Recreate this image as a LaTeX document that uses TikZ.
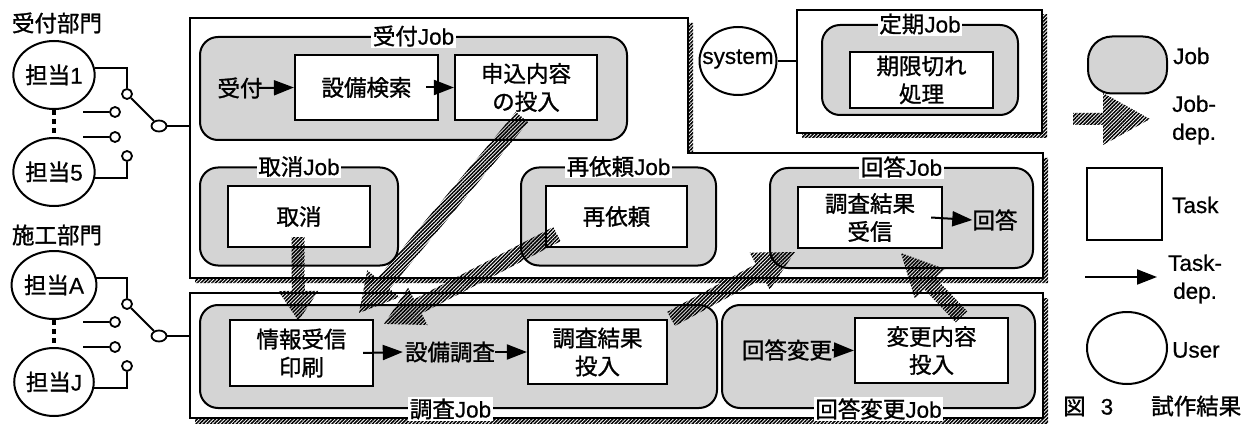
\documentclass[tikz,border=0pt]{standalone}
\usepackage{fontspec}
\setmainfont{Liberation Sans}[FakeBold=0.6]
\newfontfamily\cjk{Noto Sans CJK JP}[FakeBold=1.2]
\usetikzlibrary{arrows.meta,calc,patterns.meta,shapes.geometric}
\newcommand\jp[1]{{\cjk #1}}
\newcommand\jobdep[5]{%
  \coordinate (jdn) at ($(#2)!#5!(#1)$);
  \fill[hatch] ($(#1)!#3!90:(#2)$) -- ($(jdn)!#3!-90:(#1)$) -- ($(jdn)!#4!-90:(#1)$) -- (#2)
     -- ($(jdn)!#4!90:(#1)$) -- ($(jdn)!#3!90:(#1)$) -- ($(#1)!#3!-90:(#2)$) -- cycle;}
\begin{document}
\begin{tikzpicture}[x=1pt,y=-1pt,
  every node/.style={font=\fontsize{22.5}{28}\selectfont},
  hatch/.style={pattern={Lines[angle=45,distance=2.6pt,line width=1.5pt]}, pattern color=black},
  cont/.style={draw, line width=2.2pt, fill=white},
  job/.style={draw, line width=2pt, rounded corners=18pt, fill=black!17, inner sep=0pt},
  task/.style={draw, line width=2.2pt, fill=white, inner sep=0pt, align=center},
  lbl/.style={fill=white, inner sep=1.5pt},
  txt/.style={inner sep=0pt},
  user/.style={draw, ellipse, line width=2pt, inner sep=0pt, minimum width=78pt, minimum height=68pt},
  sw/.style={draw, circle, line width=1.8pt, minimum size=10pt, inner sep=0pt},
  pv/.style={draw, ellipse, line width=1.8pt, minimum width=15pt, minimum height=11pt, inner sep=0pt},
  wire/.style={line width=2pt},
  dotl/.style={line width=4pt, dash pattern=on 5pt off 4pt},
  tdep/.style={-{Triangle[length=20pt,width=15pt]}, line width=2pt},
]
\useasboundingbox (0,0) rectangle (1245,425);

% ---------- containers ----------
\fill[hatch] (195,23) -- (693,23) -- (693,158) -- (1048,158) -- (1048,283) -- (195,283) -- cycle;
\filldraw[cont] (190,18) -- (688,18) -- (688,153) -- (1043,153) -- (1043,278) -- (190,278) -- cycle;
\fill[hatch] (195,298) rectangle (1048,423);
\filldraw[cont] (190,293) rectangle (1043,418);
\fill[hatch] (802,15) rectangle (1047,138);
\node[cont, minimum width=245pt, minimum height=123pt] (tkbox) at (919.5,71.5) {};

% ---------- jobs ----------
\node[job, minimum width=427pt, minimum height=103pt] (jU) at (413.5,88.5) {};
\node[lbl] (jUl) at (jU.north) {\jp{受付}Job};
\node[job, minimum width=198pt, minimum height=98pt] (jT) at (299,216.5) {};
\node[lbl] (jTl) at (jT.north) {\jp{取消}Job};
\node[job, minimum width=195pt, minimum height=98pt] (jS) at (618.5,216.5) {};
\node[lbl] (jSl) at (jS.north) {\jp{再依頼}Job};
\node[job, minimum width=263pt, minimum height=100pt] (jK) at (901.5,218) {};
\node[lbl] (jKl) at (jK.north) {\jp{回答}Job};
\node[job, minimum width=196pt, minimum height=90pt] (jP) at (920,70) {};
\node[lbl] (jPl) at (jP.north) {\jp{定期}Job};
\node[job, minimum width=517pt, minimum height=103pt] (jC) at (458.5,356.5) {};
\node[lbl] (jCl) at ($(jC.south)+(-8,0)$) {\jp{調査}Job};
\node[job, minimum width=313pt, minimum height=103pt] (jH) at (878.5,356.5) {};
\node[lbl] (jHl) at (jH.south) {\jp{回答変更}Job};

% ---------- tasks ----------
\node[task, minimum width=143pt, minimum height=65pt] (tSK) at (366.5,87.5) {\jp{設備検索}};
\node[task, minimum width=142pt, minimum height=65pt] (tMO) at (526,87.5) {\jp{申込内容}\\\jp{の投入}};
\node[task, minimum width=142pt, minimum height=61pt] (tTK) at (299,216.5) {\jp{取消}};
\node[task, minimum width=141pt, minimum height=61pt] (tSI) at (616.5,216.5) {\jp{再依頼}};
\node[task, minimum width=144pt, minimum height=61pt] (tKR) at (870,217.5) {\jp{調査結果}\\\jp{受信}};
\node[task, minimum width=143pt, minimum height=56pt] (tKG) at (921.5,80) {\jp{期限切れ}\\\jp{処理}};
\node[task, minimum width=143pt, minimum height=66pt] (tJJ) at (301.5,353) {\jp{情報受信}\\\jp{印刷}};
\node[task, minimum width=139pt, minimum height=64pt] (tKT) at (597.5,352) {\jp{調査結果}\\\jp{投入}};
\node[task, minimum width=153pt, minimum height=65pt] (tHN) at (931.5,350.5) {\jp{変更内容}\\\jp{投入}};

% ---------- plain task texts ----------
\node[txt] (xUK) at (240,88) {\jp{受付}};
\node[txt] (xKT) at (995,220) {\jp{回答}};
\node[txt] (xSC) at (450,352) {\jp{設備調査}};
\node[txt] (xKH) at (787,350) {\jp{回答変更}};

% ---------- task dependencies ----------
\draw[tdep] ([xshift=-4pt]xUK.east) -- (tSK.west);
\draw[tdep] ([xshift=-13pt]tSK.east) -- (tMO.west);
\draw[tdep] ([xshift=-12pt]tKR.east) -- (xKT.west);
\draw[tdep] ([xshift=-11pt]tJJ.east) -- ([xshift=-2pt]xSC.west);
\draw[tdep] (xSC.east) -- (tKT.west);
\draw[tdep] (xKH.east) -- (tHN.west);

% ---------- system ----------
\node[user, minimum width=77pt, minimum height=68pt] (sys) at (738,61) {};
\node[txt] (syst) at (738,59) {system};
\draw[wire] (sys.east) -- (sys.east -| tkbox.west);

% ---------- users and switches ----------
\node[txt] (d1) at (57,23) {\jp{受付部門}};
\node[txt] (d2) at (57,235) {\jp{施工部門}};
\node[user] (u1) at (54,75) {\jp{担当}1};
\node[user] (u5) at (54,172) {\jp{担当}5};
\node[user] (uA) at (54,285) {\jp{担当}A};
\node[user] (uJ) at (54,382) {\jp{担当}J};
\draw[dotl] (u1.south) -- (u5.north);
\draw[dotl] (uA.south) -- (uJ.north);

\foreach \p/\ua/\ub/\n in {126/u1/u5/a, 336/uA/uJ/b}{
  \node[sw] (c\n) at (127,\p-32) {};
  \node[pv] (p\n) at (159,\p) {};
  \node[sw] (k\n2) at (115,\p-14) {};
  \node[sw] (k\n3) at (115,\p+11) {};
  \node[sw] (k\n4) at (127,\p+30) {};
  \coordinate (e\n) at (190,\p);
  \coordinate (t\n2) at (83,\p-14);
  \coordinate (t\n3) at (83,\p+11);
  \draw[wire] (\ua.10) -| (c\n.north);
  \draw[wire] (c\n) -- (p\n);
  \draw[wire] (p\n) -- (e\n);
  \draw[wire] (t\n2) -- (k\n2);
  \draw[wire] (t\n3) -- (k\n3);
  \draw[wire] (k\n4.south) |- (\ub.-8);
}

% ---------- job dependencies ----------
\coordinate (a1) at ($(tMO.south)+(-4,-4)$);
\coordinate (b1) at ($(tJJ.north east)+(-15,-6)$);
\coordinate (a2) at ($(tSI.south west)+(12,-14)$);
\coordinate (b2) at ($(tJJ.north east)+(10,5)$);
\coordinate (a3) at ($(tTK.south)+(-1,-11)$);
\coordinate (b3) at ($(tJJ.north)+(-3,2)$);
\coordinate (a4) at ($(tKT.north east)+(3,0)$);
\coordinate (b4) at ($(tKR.south west)+(-2,3)$);
\coordinate (a5) at ($(tHN.north)+(30,0)$);
\coordinate (b5) at ($(tKR.south)+(31,4)$);
\jobdep{a1}{b1}{8pt}{21pt}{38pt}
\jobdep{a2}{b2}{8pt}{21pt}{38pt}
\jobdep{a3}{b3}{6.5pt}{20pt}{30pt}
\jobdep{a4}{b4}{8pt}{21pt}{40pt}
\jobdep{a5}{b5}{8pt}{21pt}{42pt}

% ---------- legend ----------
\node[job, rounded corners=24pt, minimum width=79pt, minimum height=57pt] (lJob) at (1127.5,65) {};
\node[txt, anchor=west] (lJobt) at (1173,56) {Job};
\coordinate (lj1) at (1073,119);
\coordinate (lj2) at (1150,119);
\jobdep{lj1}{lj2}{6pt}{26pt}{47pt}
\node[txt, anchor=west, align=left] (lJdt) at (1172,120) {Job-\\dep.};
\node[task, minimum width=75pt, minimum height=72pt] (lTask) at (1124.5,204) {};
\node[txt, anchor=west] (lTaskt) at (1172,205) {Task};
\coordinate (lt1) at (1085,277);
\coordinate (lt2) at (1157,277);
\draw[tdep] (lt1) -- (lt2);
\node[txt, anchor=west, align=center] (lTdt) at (1168,279) {Task-\\dep.};
\node[user, minimum width=80pt, minimum height=72pt] (lUser) at (1127,348) {};
\node[txt, anchor=west] (lUsert) at (1172,350) {User};
\node[txt, anchor=west] (cap) at (1063,406) {\jp{図}\hspace{15pt}3\hspace{38pt}\jp{試作結果}};
\end{tikzpicture}
\end{document}
